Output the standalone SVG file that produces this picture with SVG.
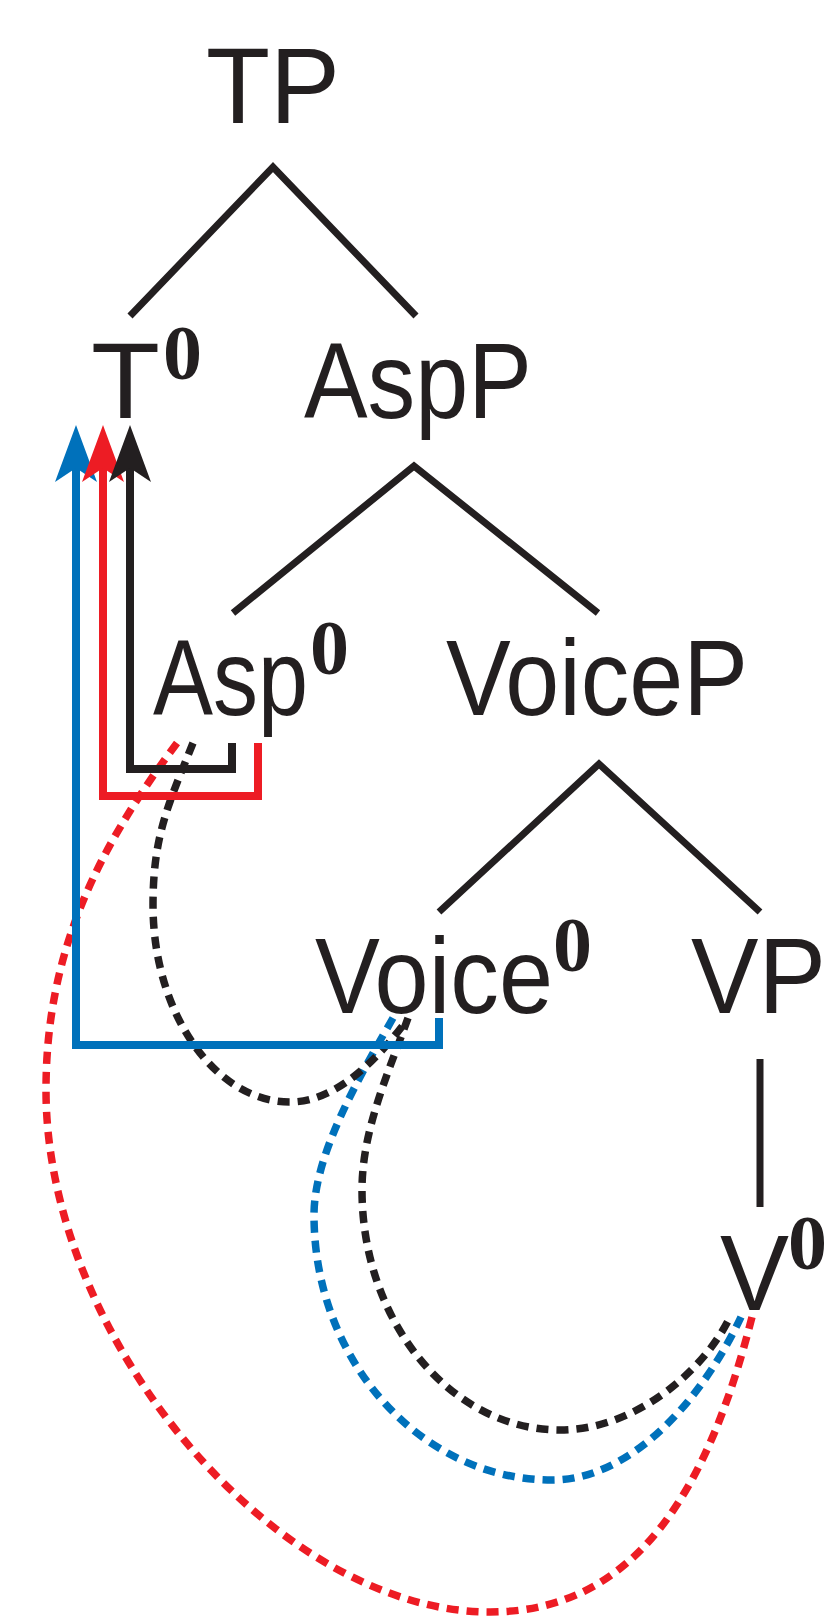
<svg xmlns="http://www.w3.org/2000/svg" xmlns:xlink="http://www.w3.org/1999/xlink" width="828" height="1624" viewBox="0 0 828 1624">
<style>
.lbl{font-family:"Liberation Sans",Arial,sans-serif;font-size:108px;fill:#231F20}
.sup{font-family:"Liberation Serif","Times New Roman",serif;font-size:78px;font-weight:bold;fill:#231F20}
.edge{stroke:#231F20;stroke-width:7;fill:none}
.mv{stroke-width:8;fill:none;stroke-linejoin:miter}
.dash{stroke-width:7.5;fill:none;stroke-dasharray:12 8}
.k{stroke:#231F20}
.r{stroke:#ED1C24}
.b{stroke:#0071BB}
</style>
<defs>
<path id="stealth" d="M0,0 L21,57 L0,43 L-21,57 Z"/>
</defs>
<rect width="828" height="1624" fill="#fff"/>
<g id="TP"><text class="lbl" x="206" y="123" textLength="134" lengthAdjust="spacingAndGlyphs">TP</text></g>
<g id="T0"><text class="lbl" x="91" y="418" textLength="69" lengthAdjust="spacingAndGlyphs">T</text><text class="sup" x="163" y="379">0</text></g>
<g id="AspP"><text class="lbl" x="304" y="418" textLength="228" lengthAdjust="spacingAndGlyphs">AspP</text></g>
<g id="Asp0"><text class="lbl" x="153" y="715" textLength="155" lengthAdjust="spacingAndGlyphs">Asp</text><text class="sup" x="310" y="674">0</text></g>
<g id="VoiceP"><text class="lbl" x="446" y="715" textLength="302" lengthAdjust="spacingAndGlyphs">VoiceP</text></g>
<g id="Voice0"><text class="lbl" x="315" y="1013" textLength="238" lengthAdjust="spacingAndGlyphs">Voice</text><text class="sup" x="553" y="971">0</text></g>
<g id="VP"><text class="lbl" x="691" y="1013" textLength="135" lengthAdjust="spacingAndGlyphs">VP</text></g>
<g id="V0"><text class="lbl" x="720" y="1310" textLength="69" lengthAdjust="spacingAndGlyphs">V</text><text class="sup" x="788" y="1269">0</text></g>
<g id="connectors">
<path class="edge" d="M130,316 L273,167 L416,316"/>
<path class="edge" d="M233,613 L414,466 L598,613"/>
<path class="edge" d="M439,912 L599,764 L760,912"/>
<path class="edge" d="M760,1059 V1207"/>
<path class="dash r" d="M177,743 C99,847 46,950 46,1090 C46,1340 277,1612 490,1612 C640,1612 710,1482 752,1317"/>
<path class="dash b" d="M393,1018 C358,1079 314,1155 314,1215 C314,1361 421,1480 552,1480 C632,1480 703,1398 741,1317"/>
<path class="dash k" d="M408,1018 C388,1074 362,1130 362,1190 C362,1322 451,1430 560,1430 C635,1430 704,1371 730,1317"/>
<path class="dash k" d="M193,743 C169,803 153,835 153,905 C153,1013 215,1102 290,1102 C340,1102 383,1052 407,1020"/>
<path class="mv b" d="M439,1018 V1045 H76 V466"/>
<path class="mv r" d="M258,743 V796 H103 V466"/>
<path class="mv k" d="M232,743 V769 H130 V466"/>
<use xlink:href="#stealth" x="76" y="425" fill="#0071BB"/>
<use xlink:href="#stealth" x="103" y="425" fill="#ED1C24"/>
<use xlink:href="#stealth" x="130" y="425" fill="#231F20"/>
</g>
</svg>
